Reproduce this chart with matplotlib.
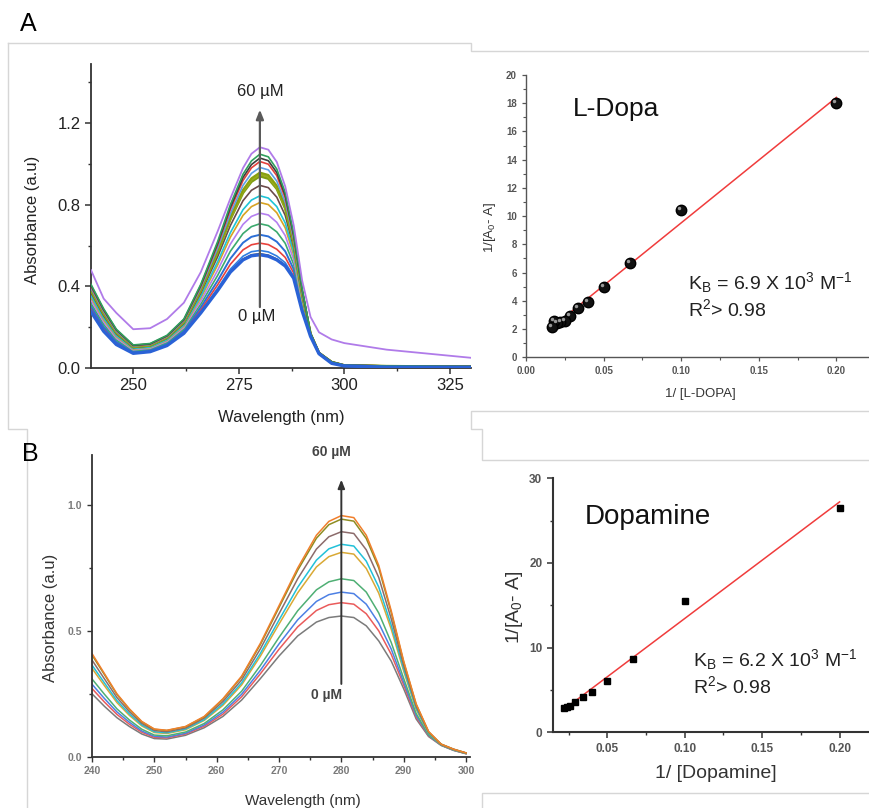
import matplotlib
matplotlib.use('Agg')
import matplotlib.pyplot as plt
import matplotlib.transforms as mtransforms
from matplotlib.ticker import MultipleLocator, FormatStrFormatter
import numpy as np

plt.rcParams['font.family'] = ['Liberation Sans', 'DejaVu Sans']
plt.rcParams['mathtext.fontset'] = 'custom'
plt.rcParams['mathtext.rm'] = 'Liberation Sans'
plt.rcParams['mathtext.it'] = 'Liberation Sans:italic'

# ---- A: L-Dopa titration spectra ----
wl_a = [240, 243, 246, 250, 254, 258, 262, 266, 270, 273, 276, 278, 280,
        282, 284, 286, 288, 290, 292, 294, 297, 300, 310, 330]
la_01 = [0.276, 0.180, 0.115, 0.072, 0.080, 0.110, 0.170, 0.270, 0.380, 0.470, 0.530, 0.550, 0.555, 0.548, 0.530, 0.500, 0.440, 0.280, 0.155, 0.070, 0.023, 0.010, 0.004, 0.003]
la_02 = [0.277, 0.181, 0.116, 0.072, 0.080, 0.111, 0.171, 0.271, 0.382, 0.473, 0.534, 0.555, 0.560, 0.553, 0.534, 0.504, 0.442, 0.281, 0.155, 0.070, 0.023, 0.010, 0.004, 0.003]
la_03 = [0.282, 0.185, 0.118, 0.074, 0.082, 0.112, 0.173, 0.276, 0.390, 0.484, 0.548, 0.570, 0.576, 0.569, 0.549, 0.516, 0.450, 0.285, 0.156, 0.070, 0.023, 0.010, 0.004, 0.003]
la_04 = [0.292, 0.193, 0.124, 0.077, 0.085, 0.116, 0.178, 0.286, 0.408, 0.508, 0.579, 0.604, 0.612, 0.605, 0.582, 0.542, 0.466, 0.293, 0.157, 0.071, 0.024, 0.011, 0.005, 0.004]
la_05 = [0.303, 0.202, 0.130, 0.080, 0.088, 0.120, 0.184, 0.298, 0.428, 0.536, 0.614, 0.643, 0.653, 0.645, 0.619, 0.572, 0.484, 0.302, 0.158, 0.071, 0.024, 0.011, 0.005, 0.004]
la_06 = [0.317, 0.214, 0.138, 0.085, 0.092, 0.125, 0.192, 0.313, 0.454, 0.572, 0.659, 0.693, 0.707, 0.698, 0.667, 0.611, 0.508, 0.314, 0.160, 0.072, 0.025, 0.011, 0.006, 0.005]
la_07 = [0.332, 0.226, 0.146, 0.089, 0.097, 0.131, 0.199, 0.328, 0.479, 0.607, 0.704, 0.743, 0.759, 0.750, 0.714, 0.649, 0.531, 0.326, 0.161, 0.072, 0.026, 0.012, 0.007, 0.005]
la_08 = [0.346, 0.237, 0.154, 0.093, 0.101, 0.136, 0.206, 0.343, 0.505, 0.641, 0.748, 0.791, 0.811, 0.801, 0.761, 0.687, 0.554, 0.337, 0.163, 0.073, 0.027, 0.012, 0.007, 0.006]
la_09 = [0.355, 0.245, 0.159, 0.096, 0.103, 0.139, 0.211, 0.352, 0.521, 0.663, 0.776, 0.823, 0.844, 0.833, 0.791, 0.711, 0.569, 0.345, 0.164, 0.073, 0.027, 0.012, 0.008, 0.006]
la_10 = [0.369, 0.256, 0.167, 0.100, 0.108, 0.145, 0.218, 0.367, 0.546, 0.698, 0.820, 0.871, 0.895, 0.884, 0.837, 0.748, 0.592, 0.356, 0.165, 0.074, 0.028, 0.013, 0.008, 0.007]
la_11 = [0.381, 0.266, 0.174, 0.104, 0.111, 0.149, 0.225, 0.379, 0.567, 0.728, 0.858, 0.913, 0.940, 0.928, 0.878, 0.781, 0.612, 0.366, 0.167, 0.074, 0.029, 0.013, 0.009, 0.007]
la_12 = [0.383, 0.268, 0.175, 0.105, 0.112, 0.150, 0.226, 0.382, 0.572, 0.734, 0.866, 0.923, 0.950, 0.938, 0.886, 0.788, 0.616, 0.368, 0.167, 0.074, 0.029, 0.013, 0.009, 0.007]
la_13 = [0.386, 0.270, 0.176, 0.106, 0.113, 0.151, 0.227, 0.384, 0.576, 0.740, 0.873, 0.930, 0.958, 0.946, 0.894, 0.794, 0.620, 0.370, 0.167, 0.074, 0.029, 0.013, 0.009, 0.007]
la_14 = [0.392, 0.276, 0.180, 0.108, 0.115, 0.153, 0.231, 0.392, 0.588, 0.756, 0.895, 0.954, 0.983, 0.971, 0.916, 0.813, 0.631, 0.376, 0.168, 0.074, 0.029, 0.014, 0.009, 0.007]
la_15 = [0.400, 0.282, 0.185, 0.110, 0.117, 0.156, 0.235, 0.400, 0.603, 0.776, 0.919, 0.981, 1.012, 0.999, 0.943, 0.834, 0.644, 0.382, 0.169, 0.075, 0.030, 0.014, 0.010, 0.008]
la_16 = [0.405, 0.286, 0.187, 0.111, 0.118, 0.158, 0.237, 0.405, 0.611, 0.787, 0.934, 0.997, 1.029, 1.016, 0.958, 0.846, 0.651, 0.386, 0.169, 0.075, 0.030, 0.014, 0.010, 0.008]
la_17 = [0.410, 0.290, 0.190, 0.113, 0.120, 0.160, 0.240, 0.410, 0.620, 0.800, 0.950, 1.015, 1.048, 1.035, 0.975, 0.860, 0.660, 0.390, 0.170, 0.075, 0.030, 0.014, 0.010, 0.008]
la_18 = [0.480, 0.340, 0.270, 0.190, 0.195, 0.240, 0.320, 0.470, 0.670, 0.830, 0.980, 1.050, 1.082, 1.070, 1.010, 0.890, 0.700, 0.430, 0.250, 0.175, 0.140, 0.122, 0.090, 0.050]
spectra_a = [la_01, la_02, la_03, la_04, la_05, la_06, la_07, la_08, la_09,
             la_10, la_11, la_12, la_13, la_14, la_15, la_16, la_17, la_18]
colors_a = ['#2a62d6', '#4a4a4a', '#2f7de1', '#e8423c', '#2c6fd6', '#3caa6e',
            '#b47ff0', '#d7a323', '#1ec4d6', '#6b4a4a', '#7f9c12', '#9aab1e',
            '#88a010', '#5d9ee6', '#e3403c', '#3d3d3d', '#2f9f5e', '#b07be9']
widths_a = [2.4, 1.2, 1.2, 1.2, 1.4, 1.2, 1.2, 1.2, 1.2, 1.2, 1.8, 1.8,
            1.5, 1.2, 1.2, 1.2, 1.2, 1.3]

# ---- A: L-Dopa double reciprocal plot ----
ldopa_x = [0.2, 0.1, 0.0667, 0.05, 0.04, 0.0333, 0.0286, 0.025, 0.0222, 0.02, 0.0182, 0.0167]
ldopa_y = [18.05, 10.45, 6.65, 5.0, 3.95, 3.5, 2.95, 2.6, 2.5, 2.4, 2.6, 2.15]

# ---- B: Dopamine titration spectra ----
wl_b = [240, 242, 244, 246, 248, 250, 252, 255, 258, 261, 264, 267, 270, 273,
        276, 278, 280, 282, 284, 286, 288, 290, 292, 294, 296, 298, 300]
da_01 = [0.250, 0.200, 0.155, 0.120, 0.090, 0.072, 0.070, 0.085, 0.115, 0.160, 0.225, 0.310, 0.400, 0.480, 0.535, 0.553, 0.559, 0.553, 0.520, 0.460, 0.380, 0.270, 0.150, 0.080, 0.045, 0.025, 0.012]
da_02 = [0.271, 0.217, 0.168, 0.129, 0.097, 0.077, 0.075, 0.090, 0.121, 0.169, 0.238, 0.329, 0.427, 0.516, 0.581, 0.604, 0.612, 0.606, 0.568, 0.500, 0.407, 0.285, 0.158, 0.083, 0.046, 0.026, 0.012]
da_03 = [0.288, 0.231, 0.178, 0.137, 0.102, 0.081, 0.078, 0.093, 0.126, 0.177, 0.248, 0.343, 0.448, 0.544, 0.617, 0.644, 0.654, 0.648, 0.606, 0.531, 0.428, 0.296, 0.164, 0.085, 0.046, 0.026, 0.013]
da_04 = [0.309, 0.248, 0.190, 0.146, 0.109, 0.086, 0.083, 0.098, 0.132, 0.186, 0.260, 0.362, 0.474, 0.580, 0.663, 0.695, 0.707, 0.700, 0.654, 0.571, 0.454, 0.311, 0.172, 0.087, 0.047, 0.027, 0.013]
da_05 = [0.351, 0.282, 0.215, 0.164, 0.122, 0.096, 0.092, 0.107, 0.144, 0.204, 0.285, 0.399, 0.527, 0.651, 0.754, 0.795, 0.812, 0.805, 0.748, 0.650, 0.507, 0.340, 0.188, 0.093, 0.048, 0.028, 0.014]
da_06 = [0.364, 0.293, 0.223, 0.170, 0.126, 0.099, 0.095, 0.110, 0.147, 0.210, 0.293, 0.410, 0.543, 0.673, 0.781, 0.826, 0.844, 0.837, 0.777, 0.674, 0.523, 0.349, 0.193, 0.094, 0.049, 0.029, 0.014]
da_07 = [0.384, 0.309, 0.235, 0.179, 0.132, 0.104, 0.099, 0.114, 0.153, 0.219, 0.305, 0.428, 0.568, 0.707, 0.825, 0.874, 0.894, 0.887, 0.822, 0.712, 0.548, 0.362, 0.200, 0.097, 0.049, 0.029, 0.015]
da_08 = [0.404, 0.326, 0.247, 0.188, 0.138, 0.109, 0.104, 0.119, 0.158, 0.228, 0.317, 0.445, 0.593, 0.741, 0.868, 0.922, 0.944, 0.936, 0.867, 0.750, 0.573, 0.376, 0.208, 0.099, 0.050, 0.030, 0.015]
da_09 = [0.410, 0.330, 0.250, 0.190, 0.140, 0.110, 0.105, 0.120, 0.160, 0.230, 0.320, 0.450, 0.600, 0.750, 0.880, 0.935, 0.958, 0.950, 0.880, 0.760, 0.580, 0.380, 0.210, 0.100, 0.050, 0.030, 0.015]
spectra_b = [da_01, da_02, da_03, da_04, da_05, da_06, da_07, da_08, da_09]
colors_b = ['#7b7b7b', '#ea5b5b', '#4d80e4', '#4faf74', '#d9a935',
            '#22c1d9', '#8c6b6b', '#8e8d22', '#f07f2c']

# ---- B: Dopamine double reciprocal plot ----
dopa_x = [0.2, 0.1, 0.0667, 0.05, 0.04, 0.0345, 0.029, 0.026, 0.0237, 0.022]
dopa_y = [26.5, 15.5, 8.65, 6.1, 4.8, 4.2, 3.55, 3.15, 2.95, 2.85]

W, H = 869, 808
fig = plt.figure(figsize=(W / 100, H / 100), dpi=100)


def box(l, t, r, b):
    # pixel box (top-left origin) -> figure fraction
    return [l / W, 1 - b / H, (r - l) / W, (b - t) / H]


def style(ax, lw, col):
    for s in ['top', 'right']:
        ax.spines[s].set_visible(False)
    for s in ['left', 'bottom']:
        ax.spines[s].set_linewidth(lw)
        ax.spines[s].set_color(col)


# background frames of the pasted panels
bg = fig.add_axes([0, 0, 1, 1], zorder=-5)
bg.set_xlim(0, W)
bg.set_ylim(H, 0)
bg.axis('off')
frame_lines = [
    ([8, 471, 471, 869], [43, 43, 51, 51]),
    ([8, 8, 27, 27], [43, 429, 429, 808]),
    ([869, 471, 471, 482, 482, 869], [411, 411, 429, 429, 460, 460]),
    ([869, 482, 482], [793, 793, 808]),
]
for xs, ys in frame_lines:
    bg.plot(xs, ys, color='#d6d6d6', lw=1)

fig.text(28.5 / W, 1 - 24 / H, 'A', fontsize=18, ha='center', va='center')
fig.text(30.5 / W, 1 - 454 / H, 'B', fontsize=18, ha='center', va='center')

# ---------------- A left ----------------
ax1 = fig.add_axes(box(91, 64, 471, 368))
for i, (ys, c, lw) in enumerate(zip(spectra_a, colors_a, widths_a)):
    ax1.plot(wl_a, ys, color=c, lw=lw, zorder=3 if i else 4,
             solid_joinstyle='round')
ax1.set_xlim(240, 330)
ax1.set_ylim(0, 1.49)
style(ax1, 1.3, '#333333')
ax1.xaxis.set_major_locator(MultipleLocator(25))
ax1.xaxis.set_minor_locator(MultipleLocator(12.5))
ax1.yaxis.set_major_locator(MultipleLocator(0.4))
ax1.yaxis.set_minor_locator(MultipleLocator(0.2))
ax1.yaxis.set_major_formatter(FormatStrFormatter('%.1f'))
ax1.tick_params(which='major', direction='out', length=4, width=1.1,
                labelsize=12, colors='#333333', labelcolor='#222222')
ax1.tick_params(which='minor', direction='out', length=2.5, width=1,
                colors='#333333')
ax1.set_xlabel('Wavelength (nm)', fontsize=12, color='#222222')
ax1.set_ylabel('Absorbance (a.u)', fontsize=12, color='#222222')
ax1.xaxis.set_label_coords(0.5, -0.138)
ax1.yaxis.set_label_coords(-0.134, 0.487)
ax1.annotate('', xy=(280, 1.28), xytext=(280, 0.285),
             arrowprops=dict(arrowstyle='-|>,head_width=0.22,head_length=0.55',
                             color='#5a5a5a', lw=1.6), zorder=6)
ax1.text(280.05, 1.354, '60 µM', fontsize=12, ha='center', va='center',
         color='#222222')
ax1.text(279.2, 0.25, '0 µM', fontsize=12, ha='center', va='center',
         color='#222222')

# ---------------- A right ----------------
ax2 = fig.add_axes(box(526, 75, 869, 357.3))
fit_a = np.polyfit(ldopa_x, ldopa_y, 1)
fx = np.array([min(ldopa_x), max(ldopa_x)])
ax2.plot(fx, np.polyval(fit_a, fx), color='#f03c3c', lw=1.1, zorder=2)
ax2.plot(ldopa_x, ldopa_y, 'o', color='#111111', markersize=7.5,
         markeredgecolor='#000000', zorder=3)
shine = mtransforms.ScaledTranslation(-1.4 / 72, 1.4 / 72, fig.dpi_scale_trans)
ax2.plot(ldopa_x, ldopa_y, 'o', color='#9a9a9a', markersize=2.5,
         markeredgewidth=0, zorder=4, transform=ax2.transData + shine)
ax2.set_xlim(0, 0.221)
ax2.set_ylim(0, 20)
style(ax2, 1.0, '#555555')
ax2.xaxis.set_major_locator(MultipleLocator(0.05))
ax2.xaxis.set_minor_locator(MultipleLocator(0.025))
ax2.xaxis.set_major_formatter(FormatStrFormatter('%.2f'))
ax2.yaxis.set_major_locator(MultipleLocator(2))
ax2.yaxis.set_minor_locator(MultipleLocator(1))
ax2.tick_params(which='major', direction='out', length=3, width=0.9,
                labelsize=7, colors='#555555', labelcolor='#555555')
ax2.tick_params(which='minor', direction='out', length=2, width=0.8,
                colors='#555555')
for lab in ax2.get_xticklabels() + ax2.get_yticklabels():
    lab.set_fontweight('bold')
ax2.set_xlabel('1/ [L-DOPA]', fontsize=9.5, color='#333333')
ax2.set_ylabel('1/[A$_\\mathregular{0}$- A]', fontsize=9.5, color='#333333')
ax2.xaxis.set_label_coords(0.509, -0.11)
ax2.yaxis.set_label_coords(-0.082, 0.46)
ax2.text(0.0303, 17.6, 'L-Dopa', fontsize=19, ha='left', va='center',
         color='#111111')
ax2.text(0.1045, 5.3,
         'K$_\\mathregular{B}$ = 6.9 X 10$^\\mathregular{3}$ M$^\\mathregular{-1}$',
         fontsize=14, ha='left', va='center', color='#222222')
ax2.text(0.1045, 3.41, 'R$^\\mathregular{2}$> 0.98', fontsize=14,
         ha='left', va='center', color='#222222')

# ---------------- B left ----------------
ax3 = fig.add_axes(box(92, 454.7, 470, 756.7))
for ys, c in zip(spectra_b, colors_b):
    ax3.plot(wl_b, ys, color=c, lw=1.1)
ax3.set_xlim(240, 300.64)
ax3.set_ylim(0, 1.2)
style(ax3, 1.3, '#333333')
ax3.xaxis.set_major_locator(MultipleLocator(10))
ax3.xaxis.set_minor_locator(MultipleLocator(5))
ax3.yaxis.set_major_locator(MultipleLocator(0.5))
ax3.yaxis.set_minor_locator(MultipleLocator(0.25))
ax3.yaxis.set_major_formatter(FormatStrFormatter('%.1f'))
ax3.tick_params(which='major', direction='out', length=3.5, width=1,
                labelsize=7.5, colors='#333333', labelcolor='#7a7a7a')
ax3.tick_params(which='minor', direction='out', length=2.5, width=1,
                colors='#333333')
for lab in ax3.get_xticklabels() + ax3.get_yticklabels():
    lab.set_fontweight('bold')
ax3.set_xlabel('Wavelength (nm)', fontsize=11, color='#333333')
ax3.set_ylabel('Absorbance (a.u)', fontsize=12, color='#333333')
ax3.xaxis.set_label_coords(0.558, -0.124)
ax3.yaxis.set_label_coords(-0.09, 0.459)
ax3.annotate('', xy=(280, 1.112), xytext=(280, 0.278),
             arrowprops=dict(arrowstyle='-|>,head_width=0.2,head_length=0.5',
                             color='#333333', lw=1.4), zorder=6)
ax3.text(278.4, 1.21, '60 µM', fontsize=10, ha='center', va='center',
         color='#444444', fontweight='bold', clip_on=False)
ax3.text(277.6, 0.245, '0 µM', fontsize=10, ha='center', va='center',
         color='#444444', fontweight='bold')

# ---------------- B right ----------------
ax4 = fig.add_axes(box(552.7, 478.3, 869, 732.3))
fit_b = np.polyfit(dopa_x, dopa_y, 1)
gx = np.array([min(dopa_x), max(dopa_x)])
ax4.plot(gx, np.polyval(fit_b, gx), color='#f03c3c', lw=1.1, zorder=2)
ax4.plot(dopa_x, dopa_y, 's', color='#000000', markersize=5, zorder=3)
ax4.set_xlim(0.0147, 0.219)
ax4.set_ylim(0, 30)
style(ax4, 1.5, '#333333')
ax4.xaxis.set_major_locator(MultipleLocator(0.05))
ax4.xaxis.set_minor_locator(MultipleLocator(0.025))
ax4.xaxis.set_major_formatter(FormatStrFormatter('%.2f'))
ax4.yaxis.set_major_locator(MultipleLocator(10))
ax4.yaxis.set_minor_locator(MultipleLocator(5))
ax4.tick_params(which='major', direction='out', length=4, width=1.1,
                labelsize=8.5, colors='#333333', labelcolor='#555555')
ax4.tick_params(which='minor', direction='out', length=2.5, width=1,
                colors='#333333')
for lab in ax4.get_xticklabels() + ax4.get_yticklabels():
    lab.set_fontweight('bold')
ax4.set_xlabel('1/ [Dopamine]', fontsize=14, color='#333333')
ax4.set_ylabel('1/[A$_\\mathregular{0}$- A]', fontsize=14, color='#333333')
ax4.xaxis.set_label_coords(0.516, -0.127)
ax4.yaxis.set_label_coords(-0.089, 0.494)
ax4.text(0.0356, 25.4, 'Dopamine', fontsize=20, ha='left', va='center',
         color='#111111')
ax4.text(0.1056, 8.58,
         'K$_\\mathregular{B}$ = 6.2 X 10$^\\mathregular{3}$ M$^\\mathregular{-1}$',
         fontsize=14, ha='left', va='center', color='#222222')
ax4.text(0.1056, 5.41, 'R$^\\mathregular{2}$> 0.98', fontsize=14,
         ha='left', va='center', color='#222222')

fig.savefig('out.png', dpi=100)
